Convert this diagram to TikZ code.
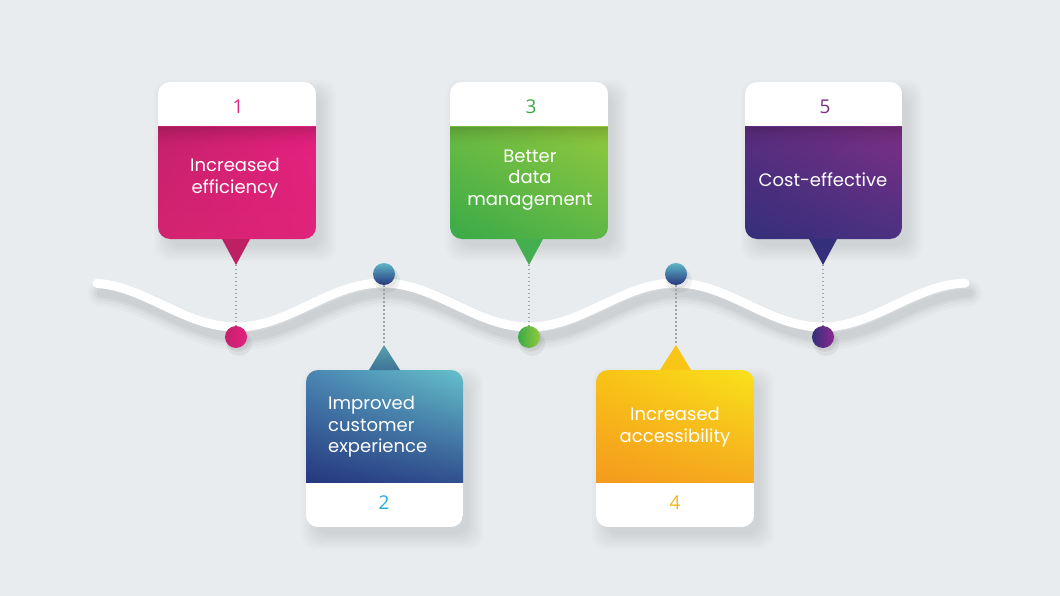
\documentclass[tikz,border=0pt]{standalone}
\usepackage{fontspec}
\setmainfont{Poppins}
\newfontfamily\numfont{Open Sans}
\usetikzlibrary{shadings}
\definecolor{bg}{HTML}{E8ECEF}
\definecolor{dotgray}{HTML}{9EA3A8}
% box 1 pink
\definecolor{aUL}{HTML}{C4216C}\definecolor{aUR}{HTML}{E5217F}\definecolor{aLL}{HTML}{D3236F}\definecolor{aLR}{HTML}{DF237A}
% box 2 blue
\definecolor{bUL}{HTML}{4A86B2}\definecolor{bUR}{HTML}{65C1CB}\definecolor{bLL}{HTML}{25387F}\definecolor{bLR}{HTML}{31508F}
% box 3 green
\definecolor{cUL}{HTML}{6BBB43}\definecolor{cUR}{HTML}{92C93D}\definecolor{cLL}{HTML}{3AAA48}\definecolor{cLR}{HTML}{5DB746}
% box 4 yellow
\definecolor{dUL}{HTML}{F9C316}\definecolor{dUR}{HTML}{F8E21B}\definecolor{dLL}{HTML}{F49A1E}\definecolor{dLR}{HTML}{F6AB1D}
% box 5 purple
\definecolor{eUL}{HTML}{5B2D80}\definecolor{eUR}{HTML}{7D2F85}\definecolor{eLL}{HTML}{342F7A}\definecolor{eLR}{HTML}{4B3081}
% numbers
\definecolor{n1c}{HTML}{E62682}\definecolor{n2c}{HTML}{29A9E0}\definecolor{n3c}{HTML}{3CAA49}\definecolor{n4c}{HTML}{F5B820}\definecolor{n5c}{HTML}{7B2F80}
\newcommand\myboxshadow[4]{%
  \foreach \s in {0,2,...,14}{\fill[black,opacity=0.012,rounded corners=14] (#1+10-\s,#2+12-\s) rectangle (#3+6+\s,#4+8+\s);}}
\newcommand\myband[3]{% x0 x1 ytop : dark band under the header
  \foreach \i/\o in {0/0.16,2/0.13,4/0.105,6/0.085,8/0.065,10/0.05,12/0.035,14/0.022,16/0.012,18/0.005}{\fill[black,opacity=\o] (#1,#3+\i) rectangle (#2,#3+\i+2);}}
\tikzset{
  lbl/.style={text=white,inner sep=0pt,font=\fontsize{18}{21.5}\selectfont},
  numlbl/.style={inner sep=0pt,font=\numfont\fontsize{19}{19}\selectfont},
  dotline/.style={dotgray,line width=1.3pt,dash pattern=on 1.3pt off 2.7pt},
  ball/.style={circle,minimum size=22pt,inner sep=0pt,shading angle=#1},
  wavepath/.style={line cap=round}
}
\begin{document}
\begin{tikzpicture}[x=1pt,y=-1pt]
\fill[bg] (0,0) rectangle (1060,596);
\useasboundingbox (0,0) rectangle (1060,596);

% wave shadow
\foreach \w/\o in {26/0.018,20/0.022,14/0.03,9/0.035}{
  \draw[black,opacity=\o,line width=\w pt,wavepath] plot[domain=97:965,samples=160] ({\x+4},{315+22*cos(1.22867*(\x-236))});}
% wave
\draw[white,line width=9pt,wavepath] plot[domain=97:965,samples=220] (\x,{305+22*cos(1.22867*(\x-236))});

% ---------- box shadows
\myboxshadow{158}{82}{316}{239}
\myboxshadow{450}{82}{608}{239}
\myboxshadow{745}{82}{902}{239}
\myboxshadow{306}{370}{463}{527}
\myboxshadow{596}{370}{754}{527}

% ---------- box 1
\begin{scope}
  \clip[rounded corners=12] (158,82) rectangle (316,239);
  \fill[white] (158,82) rectangle (316,127);
  \shade[upper left=aUL,upper right=aUR,lower left=aLL,lower right=aLR] (158,127) rectangle (316,239);
  \myband{158}{316}{127}
\end{scope}
\fill[aLL!90!black] (222,239) -- (250,239) -- (236,265) coordinate (k1) -- cycle;
\node[numlbl,text=n1c] (n1) at (238,107) {1};
\node[lbl,align=center] (t1) at (235,178) {Increased\\efficiency};

% ---------- box 3
\begin{scope}
  \clip[rounded corners=12] (450,82) rectangle (608,239);
  \fill[white] (450,82) rectangle (608,127);
  \shade[upper left=cUL,upper right=cUR,lower left=cLL,lower right=cLR] (450,127) rectangle (608,239);
  \myband{450}{608}{127}
\end{scope}
\fill[cLL!95!white] (515,239) -- (543,239) -- (529,265) coordinate (k3) -- cycle;
\node[numlbl,text=n3c] (n3) at (531,107) {3};
\node[lbl,align=center] (t3) at (530,180) {Better\\data\\management};

% ---------- box 5
\begin{scope}
  \clip[rounded corners=12] (745,82) rectangle (902,239);
  \fill[white] (745,82) rectangle (902,127);
  \shade[upper left=eUL,upper right=eUR,lower left=eLL,lower right=eLR] (745,127) rectangle (902,239);
  \myband{745}{902}{127}
\end{scope}
\fill[eLL] (809,239) -- (837,239) -- (823,265) coordinate (k5) -- cycle;
\node[numlbl,text=n5c] (n5) at (825,107) {5};
\node[lbl,align=center] (t5) at (823,180) {Cost-effective};

% ---------- box 2
\begin{scope}
  \clip[rounded corners=12] (306,370) rectangle (463,527);
  \fill[white] (306,482) rectangle (463,527);
  \shade[upper left=bUL,upper right=bUR,lower left=bLL,lower right=bLR] (306,370) rectangle (463,482);
\end{scope}
\shade[top color=bUR!85!black,bottom color=bUL!85!black] (369,370) -- (400,370) -- (384,345) coordinate (k2) -- cycle;
\node[numlbl,text=n2c] (n2) at (384,503) {2};
\node[lbl,align=left,anchor=west] (t2) at (328,427) {Improved\\customer\\experience};

% ---------- box 4
\begin{scope}
  \clip[rounded corners=12] (596,370) rectangle (754,527);
  \fill[white] (596,482) rectangle (754,527);
  \shade[upper left=dUL,upper right=dUR,lower left=dLL,lower right=dLR] (596,370) rectangle (754,482);
\end{scope}
\fill[dUL!95!dUR] (660,370) -- (691,370) -- (676,345) coordinate (k4) -- cycle;
\node[numlbl,text=n4c] (n4) at (675,503) {4};
\node[lbl,align=center] (t4) at (675,427) {Increased\\accessibility};

% ---------- dots (with small shadows)
\foreach \px/\py in {236/337,384/274,529/337,676/274,823/337}{
  \fill[black,opacity=0.05] (\px+3,\py+6) circle (13pt);
  \fill[black,opacity=0.05] (\px+2,\py+4) circle (11pt);}
\node[ball=0,left color=aUL,right color=aUR] (d1) at (236,337) {};
\node[ball=-45,top color=bUR!80!bUL,bottom color=bLL] (d2) at (384,274) {};
\node[ball=0,left color=cLL,right color=cUR] (d3) at (529,337) {};
\node[ball=-45,top color=bUR!80!bUL,bottom color=bLL] (d4) at (676,274) {};
\node[ball=0,left color=eLL,right color=eUR!90!magenta] (d5) at (823,337) {};

% ---------- dotted connectors
\draw[dotline] (k1) -- (d1);
\draw[dotline] (d2) -- (k2);
\draw[dotline] (k3) -- (d3);
\draw[dotline] (d4) -- (k4);
\draw[dotline] (k5) -- (d5);
\end{tikzpicture}
\end{document}
